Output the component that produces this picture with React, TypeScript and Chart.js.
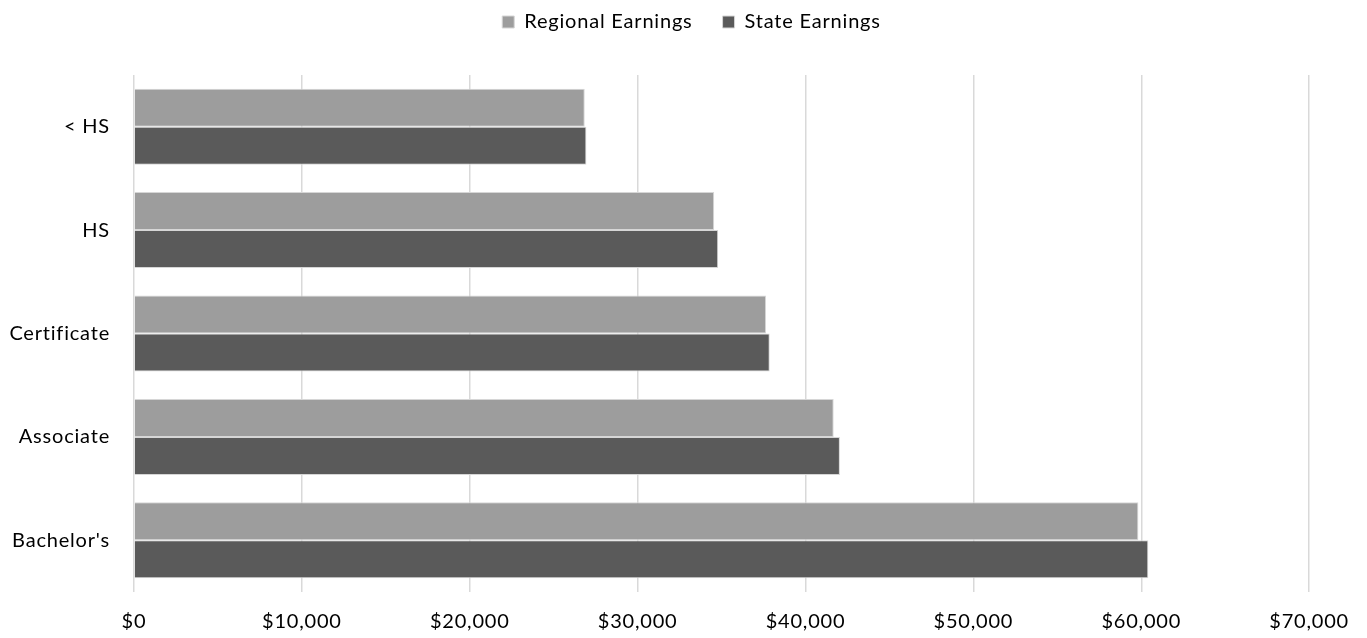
import React, { useEffect, useRef } from "react";
import { Chart, registerables } from "chart.js";

Chart.register(...registerables);

const categories = ["< HS", "HS", "Certificate", "Associate", "Bachelor's"];
const regionalEarnings = [26850, 34560, 37650, 41680, 59830];
const stateEarnings = [26950, 34800, 37870, 42050, 60420];
const seriesNames = ["Regional Earnings", "State Earnings"];
const xMin = 0;
const xMax = 70000;
const xStep = 10000;

const FONT = "Lato, 'Noto Sans', sans-serif";

const legendHeight = {
  id: "legendHeight",
  beforeInit(chart: any) {
    const orig = chart.legend.fit;
    chart.legend.fit = function () {
      orig.bind(chart.legend)();
      this.height = 93;
    };
  },
  afterLayout(chart: any) {
    chart.legend.left += 36;
    chart.legend.right += 36;
  },
};

const spacing = {
  id: "spacing",
  beforeUpdate(chart: any) {
    chart.ctx.letterSpacing = "0.8px";
  },
  beforeDraw(chart: any) {
    chart.ctx.letterSpacing = "0.8px";
  },
};

export default function App() {
  const ref = useRef<HTMLCanvasElement | null>(null);

  useEffect(() => {
    document.body.style.margin = "0";
    const ctx = ref.current!;
    const chart = new Chart(ctx, {
      type: "bar",
      data: {
        labels: categories,
        datasets: [
          {
            label: seriesNames[0],
            data: regionalEarnings,
            backgroundColor: "#9d9d9d",
            borderColor: "#d6d6d6",
            borderWidth: 1,
            categoryPercentage: 0.735,
            barPercentage: 1,
          },
          {
            label: seriesNames[1],
            data: stateEarnings,
            backgroundColor: "#5a5a5a",
            borderColor: "#d6d6d6",
            borderWidth: 1,
            categoryPercentage: 0.735,
            barPercentage: 1,
          },
        ],
      },
      plugins: [legendHeight, spacing],
      options: {
        indexAxis: "y",
        animation: false,
        responsive: false,
        maintainAspectRatio: false,
        layout: { padding: { left: 0, right: 56, top: -18, bottom: 0 } },
        plugins: {
          tooltip: { enabled: false },
          legend: {
            position: "top",
            align: "center",
            labels: {
              boxWidth: 12,
              boxHeight: 12,
              padding: 30,
              color: "#000",
              font: { family: FONT, size: 20 },
            },
          },
        },
        scales: {
          x: {
            min: xMin,
            max: xMax,
            grid: { color: "#d9d9d9", lineWidth: 1.5, drawTicks: false },
            border: { display: false },
            ticks: {
              stepSize: xStep,
              padding: 18,
              color: "#000",
              font: { family: FONT, size: 20 },
              callback: (v: any) => "$" + Number(v).toLocaleString("en-US"),
            },
            afterFit: (scale: any) => {
              scale.height = 46;
            },
          },
          y: {
            grid: { display: false, drawTicks: false },
            border: { display: false },
            ticks: {
              padding: 24,
              color: "#000",
              font: { family: FONT, size: 20 },
            },
            afterFit: (scale: any) => {
              scale.width = 134;
              scale.paddingTop = 0;
              scale.paddingBottom = 0;
            },
          },
        },
      },
    });
    return () => chart.destroy();
  }, []);

  return (
    <div style={{ width: 1367, height: 638, position: "relative" }}>
      <canvas ref={ref} width={1367} height={638} />
    </div>
  );
}
